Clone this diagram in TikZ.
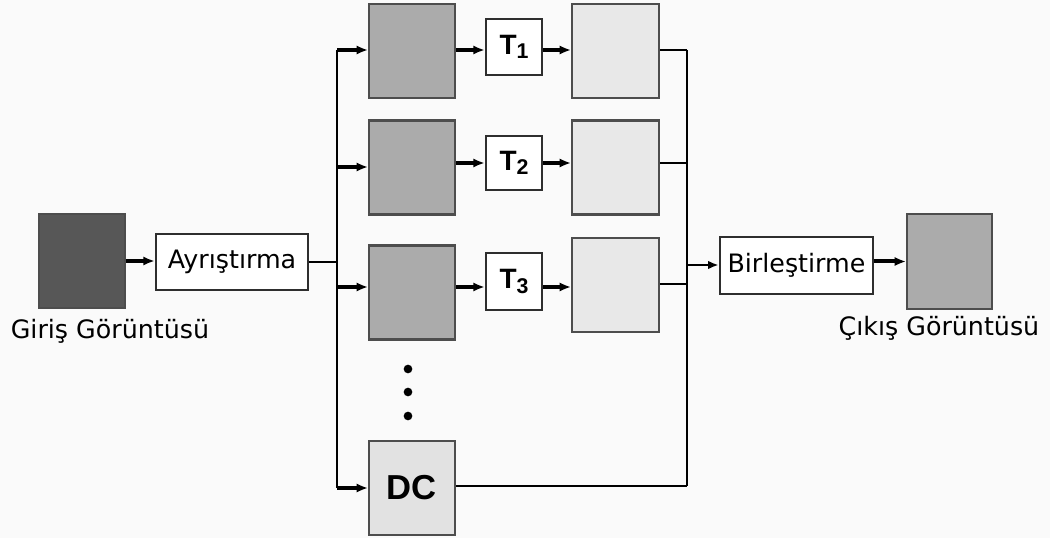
\documentclass[tikz,border=0pt]{standalone}
\usepackage{fontspec}
\setmainfont{DejaVu Sans}
\newfontfamily\arialf{Liberation Sans}
\usetikzlibrary{arrows.meta}
\definecolor{bgc}{HTML}{FAFAFA}
\definecolor{indark}{HTML}{575757}
\definecolor{midgray}{HTML}{ABABAB}
\definecolor{lightg}{HTML}{E8E8E8}
\definecolor{dcgray}{HTML}{E2E2E2}
\definecolor{edgec}{HTML}{2E2E2E}
\newcommand{\subx}[1]{\raisebox{-0.3ex}{\fontsize{16}{18}\selectfont #1}}
\begin{document}
\begin{tikzpicture}[x=0.75pt,y=-0.75pt,
  img/.style={draw=edgec!85, line width=1.6pt, inner sep=0pt, minimum width=64.5pt, minimum height=70.5pt},
  wbox/.style={draw=edgec, fill=white, line width=2pt, inner sep=0pt, font=\fontsize{19}{22}\selectfont},
  tbox/.style={wbox, minimum width=42pt, minimum height=42pt, font=\arialf\bfseries\fontsize{21}{24}\selectfont},
  arr/.style={line width=2.6pt, -{Latex[length=8.5pt,width=7pt]}},
  thin/.style={line width=1.6pt},
  lab/.style={font=\fontsize{19}{22}\selectfont, inner sep=0pt}]
\fill[bgc] (0,0) rectangle (1050,538);
\useasboundingbox (0,0) rectangle (1050,538);
% input / decomposition
\node[img, fill=indark] (in) at (82,261) {};
\node[wbox, minimum width=114pt, minimum height=42pt] (ayr) at (232,262) {Ayrıştırma};
\node[lab] (inlab) at (110,331) {Giriş Görüntüsü};
% sub-band images
\node[img, fill=midgray] (g1) at (412,51) {};
\node[img, fill=midgray] (g2) at (412,167.5) {};
\node[img, fill=midgray] (g3) at (412,292.5) {};
\node[img, fill=dcgray, minimum height=70pt, font=\arialf\bfseries\fontsize{26}{30}\selectfont] (dc) at (412,488) {DC};
% transforms
\node[tbox] (t1) at (514,47) {T\subx{1}};
\node[tbox, minimum height=40.5pt] (t2) at (514,163) {T\subx{2}};
\node[tbox, minimum height=42.75pt] (t3) at (514,281.5) {T\subx{3}};
% processed images
\node[img, fill=lightg, minimum width=65.25pt] (l1) at (615.5,51) {};
\node[img, fill=lightg, minimum width=65.25pt] (l2) at (615.5,167.5) {};
\node[img, fill=lightg, minimum width=65.25pt] (l3) at (615.5,285) {};
% dots
\node[circle, fill=black, inner sep=0pt, minimum size=6.5pt] (d1) at (408,369) {};
\node[circle, fill=black, inner sep=0pt, minimum size=6.5pt] (d2) at (408,392) {};
\node[circle, fill=black, inner sep=0pt, minimum size=6.5pt] (d3) at (408,416) {};
% recombination / output
\node[wbox, minimum width=114.75pt, minimum height=42.75pt] (bir) at (796.5,265.5) {Birleştirme};
\node[img, fill=midgray, minimum width=63.75pt, minimum height=71.25pt] (out) at (949.5,261.5) {};
\node[lab] (outlab) at (939,328) {Çıkış Görüntüsü};
% bus coordinates
\coordinate (bl1) at (337,50);
\coordinate (bl2) at (337,167);
\coordinate (bl3) at (337,287);
\coordinate (bl4) at (337,488);
\coordinate (blm) at (337,262);
\coordinate (br1) at (687,50);
\coordinate (br2) at (687,163);
\coordinate (br3) at (687,284);
\coordinate (br4) at (687,486);
\coordinate (brm) at (687,265);
% connectors
\draw[arr] (in.east) -- (in.east -| ayr.west);
\draw[thin] (ayr.east) -- (blm);
\draw[line width=2pt] (bl1) -- (bl4);
\draw[arr] (bl1) -- (bl1 -| g1.west);
\draw[arr] (bl2) -- (bl2 -| g2.west);
\draw[arr] (bl3) -- (bl3 -| g3.west);
\draw[arr] (bl4) -- (bl4 -| dc.west);
\draw[arr] (g1.east |- bl1) -- (bl1 -| t1.west);
\draw[arr] (g2.east |- t2.west) -- (t2.west);
\draw[arr] (g3.east |- bl3) -- (bl3 -| t3.west);
\draw[arr] (t1.east |- bl1) -- (bl1 -| l1.west);
\draw[arr] (t2.east) -- (t2.east -| l2.west);
\draw[arr] (t3.east |- bl3) -- (bl3 -| l3.west);
\draw[thin] (l1.east |- br1) -- (br1);
\draw[thin] (l2.east |- br2) -- (br2);
\draw[thin] (l3.east |- br3) -- (br3);
\draw[thin] (dc.east |- br4) -- (br4);
\draw[line width=2pt] (br1) -- (br4);
\draw[line width=1.8pt, -{Latex[length=8pt,width=6.5pt]}] (brm) -- (brm -| bir.west);
\draw[arr, line width=3pt] (bir.east |- out.west) -- (out.west);
\end{tikzpicture}
\end{document}
